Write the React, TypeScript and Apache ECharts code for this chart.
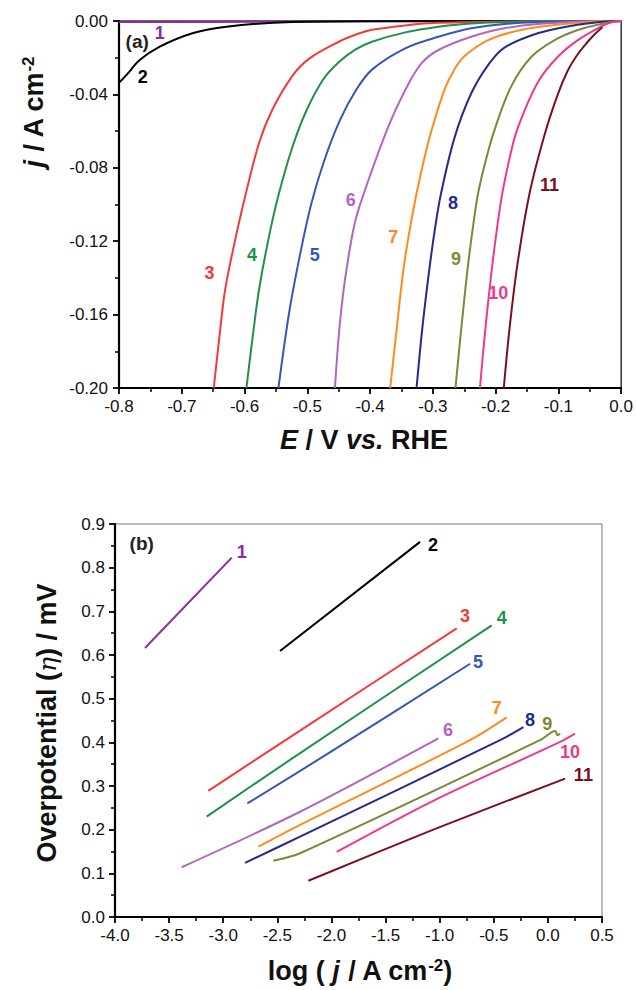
import React, { useEffect, useRef } from 'react';
import * as echarts from 'echarts';

// ---------- shared ----------
const seriesNames = ['1', '2', '3', '4', '5', '6', '7', '8', '9', '10', '11'];
const seriesColors = ['#8a2ca4', '#000000', '#f23a3a', '#1f9148', '#3656b8', '#b266c2', '#ff8a1e', '#262a8c', '#7b8a34', '#f0388c', '#7d0f1c'];

// ---------- (a) LSV curves: [E (V vs RHE), j (A cm-2)] ----------
const lsv1 = [[-0.8, -0.0006], [-0.65, -0.0005], [-0.5, -0.0003], [-0.3, -0.0001], [-0.03, 0]];
const lsv2 = [[-0.8, -0.0337], [-0.788, -0.0294], [-0.767, -0.0213], [-0.735, -0.014], [-0.683, -0.0067], [-0.629, -0.0031], [-0.524, -0.0005], [-0.4, -0.0001], [0, 0]];
const lsv3 = [[-0.649, -0.2], [-0.64, -0.172], [-0.631, -0.1466], [-0.616, -0.121], [-0.6, -0.097], [-0.577, -0.0666], [-0.556, -0.0485], [-0.524, -0.03], [-0.497, -0.0205], [-0.45, -0.0113], [-0.418, -0.0068], [-0.397, -0.0048], [-0.344, -0.0024], [-0.291, -0.001], [-0.15, -0.0002], [0, 0]];
const lsv4 = [[-0.597, -0.2], [-0.587, -0.172], [-0.577, -0.1466], [-0.562, -0.119], [-0.546, -0.095], [-0.525, -0.07], [-0.503, -0.05], [-0.475, -0.032], [-0.45, -0.0225], [-0.423, -0.0155], [-0.397, -0.0113], [-0.344, -0.0062], [-0.291, -0.0031], [-0.239, -0.0013], [-0.12, -0.0002], [0, 0]];
const lsv5 = [[-0.546, -0.2], [-0.529, -0.159], [-0.512, -0.128], [-0.494, -0.1], [-0.473, -0.076], [-0.448, -0.054], [-0.423, -0.038], [-0.397, -0.0265], [-0.344, -0.0149], [-0.291, -0.0086], [-0.239, -0.004], [-0.186, -0.0016], [-0.08, -0.0002], [0, 0]];
const lsv6 = [[-0.456, -0.2], [-0.449, -0.168], [-0.44, -0.141], [-0.425, -0.111], [-0.41, -0.094], [-0.371, -0.0576], [-0.344, -0.0376], [-0.318, -0.023], [-0.291, -0.0158], [-0.239, -0.0086], [-0.186, -0.004], [-0.133, -0.0016], [-0.05, -0.0002], [0, 0]];
const lsv7 = [[-0.368, -0.2], [-0.358, -0.169], [-0.347, -0.1357], [-0.336, -0.112], [-0.326, -0.094], [-0.313, -0.074], [-0.302, -0.0595], [-0.281, -0.037], [-0.265, -0.026], [-0.249, -0.019], [-0.212, -0.0104], [-0.16, -0.0049], [-0.106, -0.0022], [-0.04, -0.0003], [0, 0]];
const lsv8 = [[-0.326, -0.2], [-0.317, -0.168], [-0.307, -0.139], [-0.297, -0.114], [-0.287, -0.094], [-0.265, -0.063], [-0.239, -0.0395], [-0.212, -0.024], [-0.186, -0.0145], [-0.133, -0.0067], [-0.081, -0.0027], [-0.03, -0.0004], [0, 0]];
const lsv9 = [[-0.264, -0.2], [-0.254, -0.165], [-0.244, -0.133], [-0.236, -0.112], [-0.228, -0.094], [-0.215, -0.075], [-0.201, -0.0585], [-0.175, -0.0355], [-0.143, -0.0195], [-0.106, -0.0104], [-0.069, -0.0049], [-0.032, -0.0016], [0, -0.0002]];
const lsv10 = [[-0.225, -0.2], [-0.217, -0.17], [-0.208, -0.141], [-0.199, -0.116], [-0.19, -0.095], [-0.178, -0.075], [-0.165, -0.0585], [-0.133, -0.0335], [-0.101, -0.0195], [-0.069, -0.0104], [-0.032, -0.003], [-0.015, -0.0005], [0, 0]];
const lsv11 = [[-0.187, -0.2], [-0.178, -0.168], [-0.165, -0.132], [-0.146, -0.094], [-0.122, -0.062], [-0.101, -0.04], [-0.085, -0.027], [-0.069, -0.018], [-0.055, -0.012], [-0.043, -0.0075], [-0.03, -0.0034]];
const lsvData = [lsv1, lsv2, lsv3, lsv4, lsv5, lsv6, lsv7, lsv8, lsv9, lsv10, lsv11];
const lsvLabelPos = [[-0.735, -0.0065], [-0.762, -0.0305], [-0.656, -0.1373], [-0.588, -0.1275], [-0.488, -0.1275], [-0.431, -0.0975], [-0.363, -0.1177], [-0.268, -0.0992], [-0.263, -0.1297], [-0.196, -0.1482], [-0.114, -0.0894]];
const lsvPanelTag = [-0.771, -0.0114];
const lsvXTicks = { min: -0.8, max: 0, interval: 0.1 };
const lsvYTicks = { min: -0.2, max: 0, interval: 0.04 };

// ---------- (b) Tafel lines: [log(j), overpotential] ----------
const tafel1 = [[-3.723, 0.616], [-2.921, 0.823]];
const tafel2 = [[-2.475, 0.609], [-1.181, 0.859]];
const tafel3 = [[-3.138, 0.289], [-2.29, 0.427], [-0.843, 0.661]];
const tafel4 = [[-3.153, 0.23], [-2.352, 0.365], [-0.519, 0.668]];
const tafel5 = [[-2.777, 0.26], [-1.982, 0.382], [-0.719, 0.58]];
const tafel6 = [[-3.384, 0.114], [-2.29, 0.241], [-1.012, 0.409]];
const tafel7 = [[-2.675, 0.161], [-2.29, 0.211], [-0.719, 0.405], [-0.381, 0.457]];
const tafel8 = [[-2.798, 0.124], [-2.29, 0.184], [-0.442, 0.405], [-0.226, 0.435]];
const tafel9 = [[-2.537, 0.129], [-2.29, 0.146], [-0.072, 0.405], [0.067, 0.426], [0.09, 0.416], [0.113, 0.42]];
const tafel10 = [[-1.951, 0.149], [-1.059, 0.266], [0.113, 0.401], [0.251, 0.42]];
const tafel11 = [[-2.213, 0.083], [-1.059, 0.2], [0.159, 0.317]];
const tafelData = [tafel1, tafel2, tafel3, tafel4, tafel5, tafel6, tafel7, tafel8, tafel9, tafel10, tafel11];
const tafelLabelPos = [[-2.829, 0.836], [-1.061, 0.851], [-0.765, 0.689], [-0.426, 0.684], [-0.645, 0.584], [-0.922, 0.428], [-0.472, 0.478], [-0.165, 0.451], [-0.005, 0.443], [0.205, 0.378], [0.328, 0.325]];
const tafelPanelTag = [-3.753, 0.855];
const tafelXTicks = { min: -4, max: 0.5, interval: 0.5 };
const tafelYTicks = { min: 0, max: 0.9, interval: 0.1 };

const FONT = '"Liberation Sans", Arial, Helvetica, sans-serif';

function makeAxis(gridIndex: number, ticks: any, decimals: number, margin: number, isX: boolean) {
  return {
    type: 'value',
    gridIndex,
    min: ticks.min,
    max: ticks.max,
    interval: ticks.interval,
    axisLine: { show: true, onZero: false, lineStyle: { color: '#000', width: 2.2 } },
    axisTick: { show: true, inside: false, length: 6, lineStyle: { color: '#000', width: 1.8 } },
    minorTick: { show: true, splitNumber: 2, length: 4, lineStyle: { color: '#000', width: 1.5 } },
    splitLine: { show: false },
    axisLabel: {
      show: true,
      margin,
      color: '#111',
      fontFamily: FONT,
      fontSize: 17,
      formatter: (v: number) => v.toFixed(decimals),
    },
    position: isX ? 'bottom' : 'left',
  };
}

function tagPoint(coord: number[], text: string, color: string, size: number) {
  return {
    coord,
    value: text,
    symbol: 'circle',
    symbolSize: 1,
    itemStyle: { color: 'rgba(0,0,0,0)' },
    label: {
      show: true,
      position: 'inside',
      formatter: text,
      color,
      fontFamily: FONT,
      fontWeight: 'bold',
      fontSize: size,
    },
  };
}

export default function App() {
  const ref = useRef<HTMLDivElement>(null);

  useEffect(() => {
    if (!ref.current) return;
    const chart = echarts.init(ref.current, undefined, { renderer: 'svg' });

    const series: any[] = [];
    lsvData.forEach((d, i) => {
      const mp: any[] = [tagPoint(lsvLabelPos[i], seriesNames[i], seriesColors[i], 18)];
      if (i === 0) mp.push(tagPoint(lsvPanelTag, '(a)', '#222', 19));
      series.push({
        type: 'line',
        name: 'a' + seriesNames[i],
        xAxisIndex: 0,
        yAxisIndex: 0,
        data: d,
        showSymbol: false,
        smooth: 0.35,
        lineStyle: { color: seriesColors[i], width: 2 },
        itemStyle: { color: seriesColors[i] },
        markPoint: { silent: true, data: mp },
        z: 2,
      });
    });
    tafelData.forEach((d, i) => {
      const mp: any[] = [tagPoint(tafelLabelPos[i], seriesNames[i], seriesColors[i], 18)];
      if (i === 0) mp.push(tagPoint(tafelPanelTag, '(b)', '#222', 19));
      series.push({
        type: 'line',
        name: 'b' + seriesNames[i],
        xAxisIndex: 1,
        yAxisIndex: 1,
        data: d,
        showSymbol: false,
        smooth: 0.3,
        lineStyle: { color: seriesColors[i], width: 2 },
        itemStyle: { color: seriesColors[i] },
        markPoint: { silent: true, data: mp },
        z: 2,
      });
    });

    const titleBase = { fontFamily: FONT, fontWeight: 'bold', fontSize: 27, fill: '#111' };
    const rich = {
      n: { fontFamily: FONT, fontWeight: 'bold', fontSize: 27, color: '#111' },
      i: { fontFamily: FONT, fontWeight: 'bold', fontStyle: 'italic', fontSize: 27, color: '#111' },
      sup: { fontFamily: FONT, fontWeight: 'bold', fontSize: 17, color: '#111', verticalAlign: 'top', padding: [0, 0, 12, 0] },
      eta: { fontFamily: 'DejaVu Serif, serif', fontStyle: 'italic', fontSize: 25, color: '#111' },
    };

    chart.setOption({
      animation: false,
      backgroundColor: '#fff',
      grid: [
        { left: 119, top: 21, width: 505, height: 367, show: true, borderColor: '#333', borderWidth: 1.5, backgroundColor: 'transparent' },
        { left: 115, top: 524, width: 487, height: 393, show: true, borderColor: '#777', borderWidth: 1, backgroundColor: 'transparent' },
      ],
      xAxis: [makeAxis(0, lsvXTicks, 1, 10, true), makeAxis(1, tafelXTicks, 1, 10, true)],
      yAxis: [makeAxis(0, lsvYTicks, 2, 11, false), makeAxis(1, tafelYTicks, 1, 10, false)],
      series,
      graphic: [
        {
          type: 'text', x: 34, y: 112, rotation: Math.PI / 2,
          style: { ...titleBase, text: '{i|j}{n| / A cm}{sup|-2}', rich, align: 'center', verticalAlign: 'middle' },
        },
        {
          type: 'text', x: 364, y: 440,
          style: { ...titleBase, text: '{i|E}{n| / V }{i|vs.}{n| RHE}', rich, align: 'center', verticalAlign: 'middle' },
        },
        {
          type: 'text', x: 47, y: 723, rotation: Math.PI / 2,
          style: { ...titleBase, text: '{n|Overpotential (}{eta|η}{n|) / mV}', rich, align: 'center', verticalAlign: 'middle' },
        },
        {
          type: 'text', x: 360, y: 971,
          style: { ...titleBase, text: '{n|log ( }{i|j}{n| / A cm}{sup|-2}{n|)}', rich, align: 'center', verticalAlign: 'middle' },
        },
      ],
    });

    return () => chart.dispose();
  }, []);

  return <div ref={ref} style={{ width: 636, height: 990, position: 'absolute', left: 0, top: 0 }} />;
}
